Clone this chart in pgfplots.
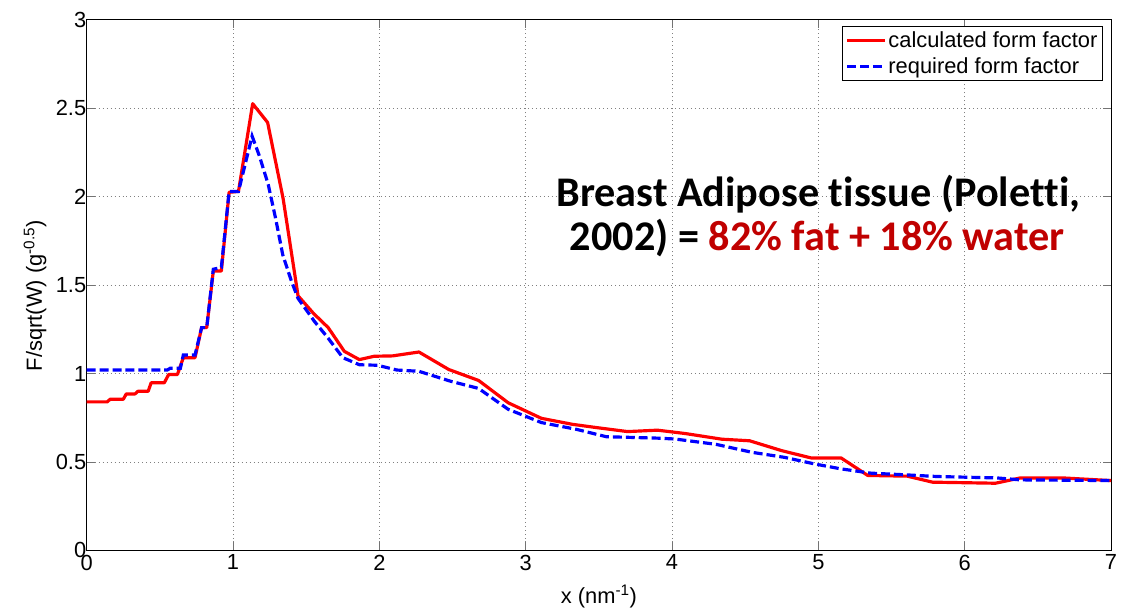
\documentclass[border=0pt]{standalone}
\usepackage{fontspec}
\setmainfont{Liberation Sans}
\newfontfamily\calib{Carlito}[Ligatures=NoCommon]
\usepackage{pgfplots}
\pgfplotsset{compat=1.18}
\definecolor{dred}{RGB}{192,0,0}

\begin{document}
\begin{tikzpicture}
\begin{axis}[name=ax, scale only axis, width=1031pt, height=534pt,
  xmin=0, xmax=7, ymin=0, ymax=3,
  xtick={0,1,2,3,4,5,6,7}, ytick={0,0.5,1,1.5,2,2.5,3},
  grid=major, major grid style={dash pattern=on 1pt off 3pt, black!50, line width=0.9pt},
  tick align=inside, major tick length=8pt,
  tick style={black!55, line width=1pt},
  axis line style={black, line width=1pt},
  /pgf/number format/assume math mode=true,
  ticklabel style={font=\fontsize{22}{26}\selectfont},
  yticklabel style={xshift=3pt},
  xticklabel style={yshift=-1pt},
  every axis x label/.style={at={(rel axis cs:0.5,0)}, anchor=base, yshift=-53pt,
    font=\fontsize{22}{26}\selectfont},
  every axis y label/.style={at={(rel axis cs:0,0.48)}, xshift=-52pt, rotate=90, anchor=center,
    font=\fontsize{22}{26}\selectfont},
  xlabel={x (nm\textsuperscript{-1})},
  ylabel={F/sqrt(W) (g\textsuperscript{-0.5})},
  legend style={at={(0.992,0.988)}, anchor=north east, draw=black, line width=1pt, fill=white,
    font=\fontsize{22}{26}\selectfont, inner sep=3pt, row sep=5pt},
  legend cell align=left,
  legend image code/.code={\draw[#1] (0pt,0pt) -- (38pt,0pt);},
]
\addplot[red, line width=3.2pt, line join=round] coordinates {
(0,0.84) (0.14,0.84) (0.16,0.855) (0.25,0.855) (0.27,0.885) (0.33,0.885) (0.35,0.90) (0.42,0.90)
(0.44,0.948) (0.53,0.948) (0.56,0.995) (0.62,0.995) (0.66,1.09) (0.74,1.09) (0.785,1.26) (0.82,1.26)
(0.865,1.58) (0.92,1.58) (0.973,2.025) (1.037,2.03) (1.134,2.526) (1.236,2.42) (1.342,1.99)
(1.444,1.44) (1.55,1.34) (1.65,1.26) (1.76,1.126) (1.863,1.079) (1.965,1.098) (2.09,1.10)
(2.27,1.122) (2.474,1.023) (2.678,0.961) (2.88,0.835) (3.107,0.747) (3.32,0.713) (3.48,0.695)
(3.696,0.672) (3.90,0.68) (4.09,0.661) (4.34,0.629) (4.53,0.62) (4.75,0.564) (4.95,0.523)
(5.155,0.523) (5.337,0.424) (5.607,0.42) (5.78,0.386) (6.21,0.38) (6.38,0.41) (6.67,0.41) (7,0.395)
};
\addplot[blue, line width=3.2pt, dash pattern=on 9pt off 4pt] coordinates {
(0,1.02) (0.55,1.02) (0.57,1.03) (0.64,1.03) (0.66,1.105) (0.74,1.105) (0.785,1.26) (0.82,1.26)
(0.865,1.59) (0.92,1.60) (0.973,2.03) (1.037,2.03) (1.13,2.343) (1.18,2.23) (1.24,2.07) (1.29,1.88)
(1.34,1.67) (1.40,1.52) (1.444,1.425) (1.557,1.294) (1.65,1.2) (1.75,1.09) (1.863,1.05)
(1.987,1.047) (2.12,1.02) (2.27,1.013) (2.485,0.957) (2.678,0.916) (2.88,0.798) (3.107,0.723)
(3.345,0.685) (3.55,0.643) (3.90,0.635) (4.02,0.63) (4.30,0.60) (4.545,0.555) (4.77,0.526)
(4.974,0.489) (5.155,0.461) (5.359,0.437) (5.607,0.427) (5.81,0.418) (6.22,0.41) (6.38,0.399) (7,0.395)
};
\legend{calculated form factor, required form factor}
\node[anchor=base east, inner sep=0pt, font=\calib\bfseries\fontsize{42.5}{48}\selectfont]
  at (axis cs:6.79,1.942) {Breast Adipose tissue (Poletti,};
\node[anchor=base east, inner sep=0pt, font=\calib\bfseries\fontsize{42.5}{48}\selectfont]
  at (axis cs:6.685,1.695) {2002) = \textcolor{dred}{82\% fat + 18\% water}};
\end{axis}
\pgfresetboundingbox
\path[use as bounding box] ([shift={(-87.3pt,-60.3pt)}]ax.south west) rectangle ([shift={(10pt,20pt)}]ax.north east);
\end{tikzpicture}
\end{document}
